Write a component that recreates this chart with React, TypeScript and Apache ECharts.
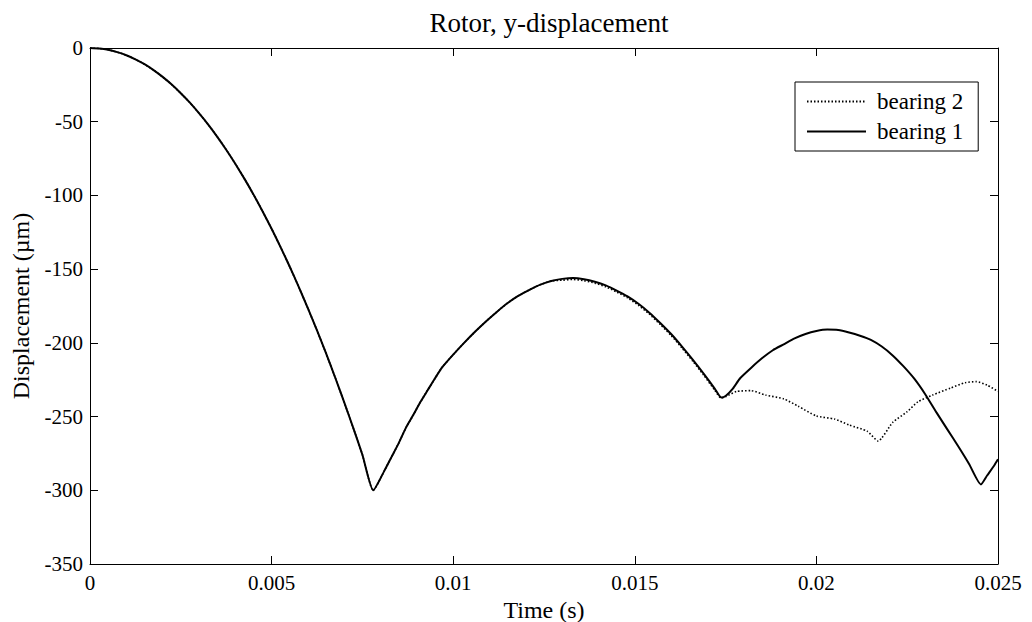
import React, { useEffect, useRef } from "react";
import * as echarts from "echarts";

const chartTitle = "Rotor, y-displacement";
const xName = "Time (s)";
const yName = "Displacement (\u00b5m)";
const seriesNames = ["bearing 2", "bearing 1"];

// Common path of both bearings (free fall, impact, first bounce)
const timeShared = [
  0, 0.00025, 0.0005, 0.00075, 0.001, 0.00125, 0.0015, 0.00175, 0.002, 0.00225,
  0.0025, 0.00275, 0.003, 0.00325, 0.0035, 0.00375, 0.004, 0.00425, 0.0045,
  0.00475, 0.005, 0.00525, 0.0055, 0.00575, 0.006, 0.00625, 0.0065, 0.00675,
  0.007, 0.00725, 0.0075, 0.0078, 0.0081, 0.0083, 0.0085, 0.0087, 0.0089,
  0.0091, 0.0093, 0.0095, 0.0097, 0.01, 0.0103, 0.0106, 0.0109, 0.0112, 0.0115,
  0.0118, 0.0121, 0.0124, 0.0127,
];
const dispShared = [
  0, -0.3, -1.2, -2.8, -4.9, -7.7, -11.0, -15.0, -19.6, -24.8,
  -30.7, -37.1, -44.2, -51.8, -60.1, -69.0, -78.5, -88.6, -99.3,
  -110.7, -122.6, -135.2, -148.4, -162.2, -176.6, -191.6, -207.2, -223.5,
  -240.4, -257.8, -275.9, -300, -287, -277.5, -268, -257.5, -249,
  -240, -232, -224, -216.5, -208, -200, -192.5, -185.5, -179, -173,
  -168, -164, -160.5, -158,
];

// bearing 1 after the shared part
const timeB1 = [
  0.013, 0.0133, 0.0136, 0.0139, 0.0142, 0.0145, 0.0148, 0.0151, 0.0154, 0.0157,
  0.016, 0.0163, 0.0166, 0.0169, 0.0172, 0.01738, 0.0175, 0.0177, 0.0179, 0.0182,
  0.0185, 0.0188, 0.0191, 0.0194, 0.0197, 0.02, 0.0203, 0.0206, 0.0209, 0.0212,
  0.0215, 0.0218, 0.0221, 0.0224, 0.0227, 0.023, 0.0233, 0.0236, 0.0239, 0.0242,
  0.02453, 0.0247, 0.0249, 0.025,
];
const dispB1 = [
  -156.6, -156, -156.8, -158.5, -161, -164.5, -168.5, -173.5, -179.5, -186.5,
  -194, -202.5, -211.5, -221, -231, -237, -236, -231, -224, -217,
  -210.5, -205, -201, -197, -194, -192, -191, -191.3, -193, -195.2,
  -198, -202.5, -208.5, -216, -224.5, -235, -247, -258.5, -270, -282,
  -296, -290, -283, -279,
];

// bearing 2 after the shared part
const timeB2 = [
  0.013, 0.0133, 0.0136, 0.0139, 0.0142, 0.0145, 0.0148, 0.0151, 0.0154, 0.0157,
  0.016, 0.0163, 0.0166, 0.0169, 0.0172, 0.01738, 0.0175, 0.0178, 0.0182, 0.0186,
  0.0191, 0.0195, 0.02, 0.0205, 0.0209, 0.0214, 0.0217, 0.0221, 0.0225, 0.0228,
  0.0232, 0.0237, 0.0241, 0.0244, 0.0247, 0.025,
];
const dispB2 = [
  -157.5, -157, -157.8, -159.5, -162, -165.5, -169.5, -174.5, -180.5, -187.5,
  -195, -203.5, -212.5, -222, -232, -237.5, -236.5, -233, -232.4, -235.4,
  -238, -243, -249.6, -251.7, -255.7, -260, -266.6, -254, -246.7, -239.9,
  -235.4, -230.6, -227, -226.3, -228.6, -233,
];

const xTicks = [0, 0.005, 0.01, 0.015, 0.02, 0.025];

const FONT = "'Liberation Serif', 'Times New Roman', serif";

export default function App() {
  const ref = useRef<HTMLDivElement>(null);

  useEffect(() => {
    document.body.style.margin = "0";
    if (!ref.current) return;
    const chart = echarts.init(ref.current, null, { renderer: "svg" });

    const axisCommon = {
      axisLine: { show: true, onZero: false, lineStyle: { color: "#000", width: 1 } },
      axisTick: { show: true, inside: true, length: 8, lineStyle: { color: "#000" } },
      splitLine: { show: false },
    };

    const shared = timeShared.map((t, i) => [t, dispShared[i]]);
    const b1 = shared.concat(timeB1.map((t, i) => [t, dispB1[i]]));
    const b2 = shared.concat(timeB2.map((t, i) => [t, dispB2[i]]));

    const option: any = {
      animation: false,
      backgroundColor: "#fff",
      title: {
        text: chartTitle,
        left: 544,
        top: 4,
        textAlign: "center",
        textStyle: { fontFamily: FONT, fontSize: 27, fontWeight: "normal", color: "#000" },
      },
      grid: {
        left: 90,
        right: 34,
        top: 48,
        bottom: 58,
        containLabel: false,
        outerBoundsMode: "none",
      },
      legend: {
        data: seriesNames,
        orient: "vertical",
        left: 795,
        top: 82,
        padding: [8, 15, 8, 11],
        itemWidth: 59,
        itemHeight: 14,
        itemGap: 7,
        borderColor: "#000",
        borderWidth: 1,
        backgroundColor: "#fff",
        itemStyle: { opacity: 0 },
        textStyle: { fontFamily: FONT, fontSize: 23, color: "#000", padding: [0, 0, 0, 6] },
      },
      xAxis: [
        {
          type: "value",
          min: 0,
          max: 0.025,
          interval: 0.005,
          position: "bottom",
          name: xName,
          nameLocation: "middle",
          nameGap: 33,
          nameTextStyle: { fontFamily: FONT, fontSize: 24, color: "#000" },
          axisLabel: {
            margin: 8,
            fontFamily: FONT,
            fontSize: 21,
            color: "#000",
            formatter: (v: number) => {
              const m = xTicks.find((t) => Math.abs(t - v) < 1e-9);
              return String(m !== undefined ? m : +v.toFixed(3));
            },
          },
          ...axisCommon,
        },
        {
          type: "value",
          min: 0,
          max: 0.025,
          interval: 0.005,
          position: "top",
          axisLabel: { show: false },
          ...axisCommon,
        },
      ],
      yAxis: [
        {
          type: "value",
          min: -350,
          max: 0,
          interval: 50,
          position: "left",
          name: yName,
          nameLocation: "middle",
          nameGap: 57,
          nameTextStyle: { fontFamily: FONT, fontSize: 24, color: "#000" },
          axisLabel: { margin: 7, fontFamily: FONT, fontSize: 21, color: "#000" },
          ...axisCommon,
        },
        {
          type: "value",
          min: -350,
          max: 0,
          interval: 50,
          position: "right",
          axisLabel: { show: false },
          ...axisCommon,
        },
      ],
      series: [
        {
          name: seriesNames[0],
          type: "line",
          xAxisIndex: 0,
          yAxisIndex: 0,
          showSymbol: false,
          symbol: "none",
          smooth: 0.2,
          data: b2,
          lineStyle: { color: "#000", width: 1.6, type: [1.5, 2] },
          itemStyle: { color: "#000" },
          z: 2,
        },
        {
          name: seriesNames[1],
          type: "line",
          xAxisIndex: 0,
          yAxisIndex: 0,
          showSymbol: false,
          symbol: "none",
          smooth: 0.2,
          data: b1,
          lineStyle: { color: "#000", width: 2 },
          itemStyle: { color: "#000" },
          z: 3,
        },
      ],
    };

    chart.setOption(option);
    return () => chart.dispose();
  }, []);

  return <div ref={ref} style={{ width: 1032, height: 622 }} />;
}
